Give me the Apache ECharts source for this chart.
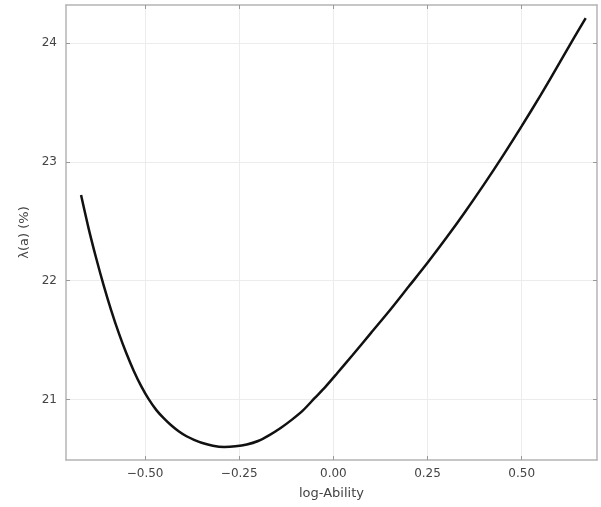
<!DOCTYPE html>
<html>
<head>
<meta charset="utf-8">
<script src="https://cdn.jsdelivr.net/npm/echarts@6/dist/echarts.min.js"></script>
<style>
  html, body { margin: 0; padding: 0; background: #fff; }
  #chart { width: 601px; height: 507px; }
</style>
</head>
<body>
<div id="chart"></div>
<script>
// log-ability on x, lambda(a) in percent on y
var abilityX = [-0.67, -0.65, -0.63, -0.61, -0.59, -0.57, -0.55, -0.53, -0.51, -0.49,
  -0.47, -0.45, -0.43, -0.41, -0.39, -0.37, -0.35, -0.32, -0.29, -0.26,
  -0.23, -0.20, -0.17, -0.14, -0.11, -0.08, -0.05, -0.02, 0.01, 0.05,
  0.10, 0.15, 0.20, 0.25, 0.30, 0.35, 0.40, 0.45, 0.50, 0.55,
  0.60, 0.64, 0.67];
var lambdaY = [22.72, 22.44, 22.19, 21.96, 21.75, 21.56, 21.39, 21.24, 21.11, 21.00,
  20.91, 20.84, 20.78, 20.73, 20.69, 20.66, 20.635, 20.61, 20.60, 20.605,
  20.62, 20.65, 20.70, 20.76, 20.83, 20.91, 21.01, 21.11, 21.22, 21.37,
  21.56, 21.75, 21.95, 22.15, 22.36, 22.58, 22.81, 23.05, 23.30, 23.56,
  23.83, 24.05, 24.21];
var xTicks = [-0.5, -0.25, 0, 0.25, 0.5];
var yTicks = [21, 22, 23, 24];

var chart = echarts.init(document.getElementById('chart'));

var points = [];
for (var i = 0; i < abilityX.length; i++) {
  points.push([abilityX[i], lambdaY[i]]);
}

var frameColor = '#b4b4b4';
var gridColor = '#ececec';
var textColor = '#444';

function fmtX(v) {
  var s = Math.abs(v).toFixed(2);
  return v < 0 ? '\u2212' + s : s;
}

var xBase = {
  type: 'value',
  min: -0.71,
  max: 0.70,
  axisLine: { show: true, onZero: false, lineStyle: { color: frameColor, width: 1.5 } },
  axisTick: { show: true, inside: true, length: 4, customValues: xTicks, lineStyle: { color: '#999' } }
};
var yBase = {
  type: 'value',
  min: 20.49,
  max: 24.32,
  axisLine: { show: true, onZero: false, lineStyle: { color: frameColor, width: 1.5 } },
  axisTick: { show: true, inside: true, length: 4, customValues: yTicks, lineStyle: { color: '#999' } }
};

var option = {
  backgroundColor: '#fff',
  animation: false,
  grid: { left: 66, right: 4, top: 5, bottom: 47 },
  xAxis: [
    Object.assign({}, xBase, {
      position: 'bottom',
      name: 'log-Ability',
      nameLocation: 'middle',
      nameGap: 27,
      nameTextStyle: { color: textColor, fontSize: 13, fontFamily: 'DejaVu Sans' },
      axisLabel: { customValues: xTicks, formatter: fmtX, margin: 8, color: textColor, fontSize: 12, fontFamily: 'DejaVu Sans' },
      splitLine: { show: true, lineStyle: { color: gridColor, width: 1 } }
    }),
    Object.assign({}, xBase, {
      position: 'top',
      axisLabel: { show: false },
      splitLine: { show: false }
    })
  ],
  yAxis: [
    Object.assign({}, yBase, {
      position: 'left',
      name: '\u03bb(a) (%)',
      nameLocation: 'middle',
      nameGap: 35,
      nameRotate: 90,
      nameTextStyle: { color: textColor, fontSize: 13, fontFamily: 'DejaVu Sans' },
      axisLabel: { customValues: yTicks, margin: 9, color: textColor, fontSize: 12, fontFamily: 'DejaVu Sans' },
      splitLine: { show: true, lineStyle: { color: gridColor, width: 1 } }
    }),
    Object.assign({}, yBase, {
      position: 'right',
      axisLabel: { show: false },
      splitLine: { show: false }
    })
  ],
  series: [
    {
      type: 'line',
      data: points,
      xAxisIndex: 0,
      yAxisIndex: 0,
      smooth: 0.3,
      showSymbol: false,
      lineStyle: { color: '#111', width: 2.5 }
    }
  ]
};

chart.setOption(option);
</script>
</body>
</html>
